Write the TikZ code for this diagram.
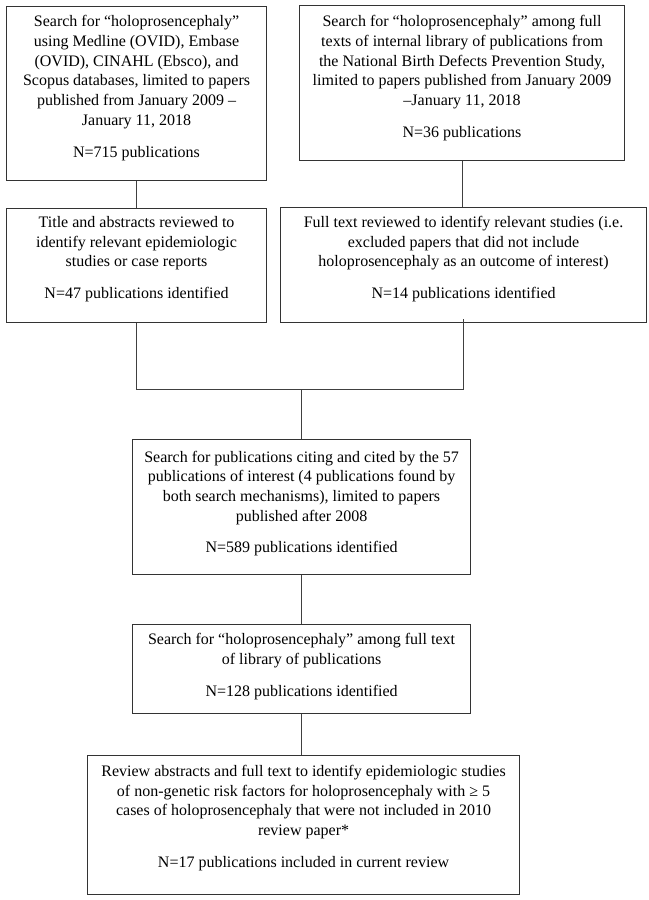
\documentclass[tikz,border=0pt]{standalone}
\usepackage{fontspec}
\setmainfont{Liberation Serif}
\begin{document}
\begin{tikzpicture}[x=1bp,y=-1bp,
  box/.style={draw=black!80,line width=1.1bp,rectangle,inner sep=0pt,anchor=north west},
  txt/.style={align=center,inner sep=0pt,font=\fontsize{16bp}{19.7bp}\selectfont},
  conn/.style={draw=black!75,line width=1bp}]
\useasboundingbox (0,0) rectangle (649,900);
% boxes
\node[box,minimum width=260bp,minimum height=174bp] (b1) at (6,6) {};
\node[box,minimum width=325bp,minimum height=155bp] (b2) at (299,5) {};
\node[box,minimum width=260bp,minimum height=114bp] (b3) at (6,208) {};
\node[box,minimum width=366bp,minimum height=115bp] (b4) at (280,207) {};
\node[box,minimum width=338bp,minimum height=135bp] (b5) at (132,439) {};
\node[box,minimum width=338bp,minimum height=89bp] (b6) at (132,624) {};
\node[box,minimum width=432bp,minimum height=139bp] (b7) at (87,755) {};
% texts
\node[txt] (t1) at ([yshift=5.5bp]b1.center) {Search for “holoprosencephaly”\\using Medline (OVID), Embase\\(OVID), CINAHL (Ebsco), and\\Scopus databases, limited to papers\\published from January 2009 –\\January 11, 2018\\[12bp]N=715 publications};
\node[txt] (t2) at ([yshift=5bp]b2.center) {Search for “holoprosencephaly” among full\\texts of internal library of publications from\\the National Birth Defects Prevention Study,\\limited to papers published from January 2009\\–January 11, 2018\\[12bp]N=36 publications};
\node[txt] (t3) at ([yshift=6.5bp]b3.center) {Title and abstracts reviewed to\\identify relevant epidemiologic\\studies or case reports\\[12bp]N=47 publications identified};
\node[txt] (t4) at ([yshift=6bp]b4.center) {Full text reviewed to identify relevant studies (i.e.\\excluded papers that did not include\\holoprosencephaly as an outcome of interest)\\[12bp]N=14 publications identified};
\node[txt] (t5) at ([yshift=3.5bp]b5.center) {Search for publications citing and cited by the 57\\publications of interest (4 publications found by\\both search mechanisms), limited to papers\\published after 2008\\[12bp]N=589 publications identified};
\node[txt] (t6) at ([yshift=2.5bp]b6.center) {Search for “holoprosencephaly” among full text\\of library of publications\\[12bp]N=128 publications identified};
\node[txt] (t7) at ([yshift=7bp]b7.center) {Review abstracts and full text to identify epidemiologic studies\\of non-genetic risk factors for holoprosencephaly with ≥ 5\\cases of holoprosencephaly that were not included in 2010\\review paper*\\[12bp]N=17 publications included in current review};
% connectors
\coordinate (m) at (301,389);
\draw[conn] (b1.south) -- (b3.north);
\draw[conn] (b2.south) -- (b2.south |- b4.north);
\draw[conn] (b3.south) |- (m);
\draw[conn] ([yshift=4bp]b4.south) |- (m);
\draw[conn] (m) -- (m |- b5.north);
\draw[conn] (b5.south) -- (b6.north);
\draw[conn] (b6.south) -- (b6.south |- b7.north);
\end{tikzpicture}
\end{document}
